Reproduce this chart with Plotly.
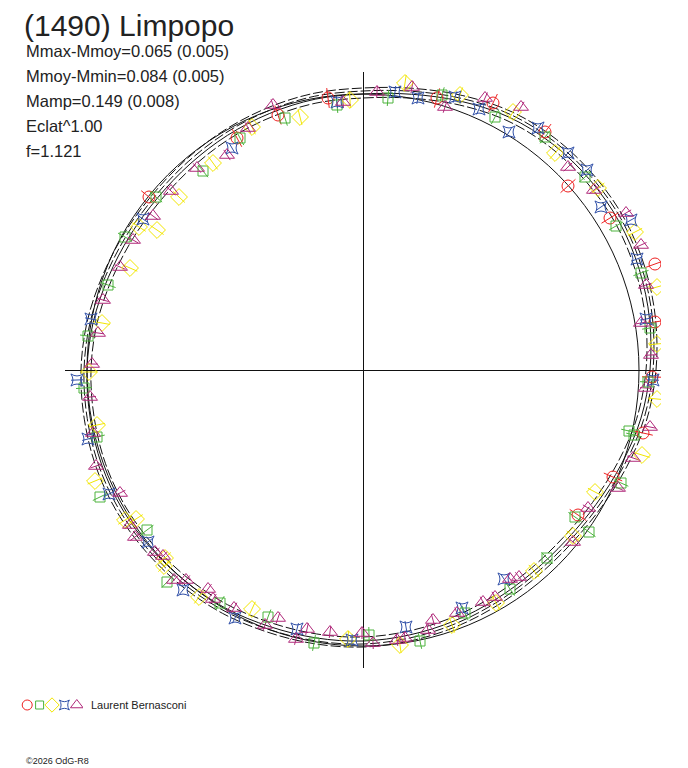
import numpy as np
import plotly.graph_objects as go

# reference circle radius (plot units) and axis half-extent
R_CIRCLE = 276
AX_MAX = 298

# fitted curve: deviation from the circle, every 10 deg of phase angle
fit_phase = list(range(0, 360, 10))
fit_dr = [11, 15, 18, 20, 20, 19, 16, 10, 4, 0, -1, -3, -5, -7, -8, -7, -5, -2,
          0, 1, 2, 2, 1, 0, -1, -3, -4, -5, -7, -9, -11, -12, -11, -7, -1, 6]
band_dr = [-4, 3, 6]  # dashed companion curves

# observations (x, y) in plot units, origin at the centre
red_x = [-126, -85, -35, 74, 130, 182, 205, 247, 292, 292, 289, 280, 250, 215, -214]
red_y = [232, 255, 272, 272, 267, 238, 184, 152, 106, 48, -7, -63, -107, -145, 173]

green_x = [-123, -78, -26, 25, 79, 132, 182, 222, 253, 278, 287, 285, 266, 271, 258, 212,
           226, 184, 147, 102, 57, 6, -49, -95, -143, -196, -216, -263, -266, -279, -275,
           -255, -238, -207, -160]
green_y = [232, 252, 265, 272, 275, 253, 233, 193, 144, 97, 42, -12, -61, -65, -113, -147,
           -162, -188, -219, -243, -271, -265, -273, -247, -233, -212, -160, -127, -67, -18,
           34, 85, 133, 173, 199]

yellow_x = [-111, -63, -13, 42, 97, 150, 192, 235, 272, 294, 294, 294, 279, 232, 210, 171,
            133, 89, 37, -15, -111, -164, -198, -199, -238, -227, -268, -266, -274, -261,
            -224, -206, -233, -184, -150]
yellow_y = [243, 253, 270, 287, 275, 258, 217, 182, 138, 83, 26, -29, -85, -122, -166, -201,
            -233, -255, -275, -269, -239, -227, -188, -196, -150, -149, -111, -55, -2, 47,
            143, 140, 102, 173, 207]

blue_x = [-131, -26, 32, 55, 92, 116, 146, 175, 205, 224, 238, 268, 274, 283, 290, 141, 99,
          43, -11, -66, -128, -180, -215, -254, -275, -286, -272, -220]
blue_y = [222, 268, 278, 272, 273, 261, 238, 242, 217, 200, 163, 150, 111, 51, -10, -209,
          -238, -257, -270, -259, -248, -220, -172, -124, -69, -10, 51, 151]

magenta_x = [-90, -115, -136, -20, 14, 49, 82, 122, 158, 205, 231, 263, 278, 283, 278, 288,
             283, 287, 270, 255, 225, 210, 156, 147, 132, 120, 94, 70, 65, 42, 34, 10, -1,
             -33, -56, -67, -85, -98, -129, -150, -155, -177, -189, -200, -208, -228, -233,
             -243, -267, -270, -273, -271, -265, -260, -243, -230, -210, -192, -166]
magenta_y = [265, 242, 215, 268, 278, 283, 263, 272, 263, 203, 180, 157, 125, 85, 47, 15,
             -18, -57, -88, -118, -138, -172, -207, -209, -227, -232, -243, -250, -260, -268,
             -270, -273, -263, -262, -259, -269, -248, -255, -238, -229, -219, -210, -210,
             -186, -182, -167, -155, -123, -96, -63, -27, 6, 37, 70, 103, 130, 154, 179, 202]

series = [
    # x, y, colour, symbol, size, error half-length
    (red_x, red_y, "#ee2222", "circle-open", 12, 10),
    (green_x, green_y, "#4cb33c", "square-open", 10, 8),
    (yellow_x, yellow_y, "#f2e600", "diamond-open", 13, 8),
    (blue_x, blue_y, "#3050a8", "star-square-open", 11, 6),
    (magenta_x, magenta_y, "#b0287a", "triangle-up-open", 13, 6),
]

title = "(1490) Limpopo"
stats = ["Mmax-Mmoy=0.065 (0.005)", "Mmoy-Mmin=0.084 (0.005)", "Mamp=0.149 (0.008)",
         "Eclat^1.00", "f=1.121"]
observer = "Laurent Bernasconi"
credit = "©2026 OdG-R8"

# the page adds an 8px body margin, so the figure is a bit smaller than the window
PAD = 8
W, H = 688 - PAD, 768 - PAD
FONT = "Liberation Sans, Arial, sans-serif"


def px(x):
    return (x - PAD) / W


def py(y):
    return 1 - (y - PAD) / H


fig = go.Figure()

# fitted curve and its companions
ang = np.radians(fit_phase + [fit_phase[0]])
dr = np.array(fit_dr + [fit_dr[0]], dtype=float)
for off, dash in [(0, "solid")] + [(b, "10px,3px") for b in band_dr]:
    r = R_CIRCLE + dr + off
    fig.add_trace(go.Scatter(
        x=r * np.cos(ang), y=r * np.sin(ang), mode="lines",
        line=dict(color="#111111", width=1, dash=dash, shape="spline"),
        hoverinfo="skip", showlegend=False,
    ))

# radial error bars then the points
for xs, ys, col, sym, size, err in series:
    ex, ey = [], []
    for x, y in zip(xs, ys):
        d = np.hypot(x, y)
        ux, uy = x / d, y / d
        ex += [x - err * ux, x + err * ux, None]
        ey += [y - err * uy, y + err * uy, None]
    fig.add_trace(go.Scatter(x=ex, y=ey, mode="lines", line=dict(color=col, width=1),
                             hoverinfo="skip", showlegend=False))
for xs, ys, col, sym, size, err in series:
    fig.add_trace(go.Scatter(
        x=xs, y=ys, mode="markers",
        marker=dict(symbol=sym, size=size, color=col, line=dict(color=col, width=1)),
        showlegend=False,
    ))

# legend glyphs on a small auxiliary axis
for i, (xs, ys, col, sym, size, err) in enumerate(series):
    fig.add_trace(go.Scatter(
        x=[i], y=[0], mode="markers", xaxis="x2", yaxis="y2",
        marker=dict(symbol=sym, size=size - 2, color=col, line=dict(color=col, width=1)),
        showlegend=False, hoverinfo="skip",
    ))

fig.add_shape(type="circle", xref="x", yref="y", x0=-R_CIRCLE, y0=-R_CIRCLE,
              x1=R_CIRCLE, y1=R_CIRCLE, line=dict(color="#111111", width=1), layer="below")

ann = [dict(text=title, x=px(23), y=1, xref="paper", yref="paper",
            xanchor="left", yanchor="top", showarrow=False, borderpad=0,
            font=dict(size=30, color="#222222", family=FONT))]
for k, s in enumerate(stats):
    ann.append(dict(text=s, x=px(24), y=py(51 + 25 * k), xref="paper", yref="paper",
                    xanchor="left", yanchor="middle", showarrow=False,
                    font=dict(size=16.5, color="#222222", family=FONT)))
ann.append(dict(text=observer, x=px(89), y=py(705), xref="paper", yref="paper",
                xanchor="left", yanchor="middle", showarrow=False,
                font=dict(size=11, color="#222222", family=FONT)))
ann.append(dict(text=credit, x=px(24), y=py(761), xref="paper", yref="paper",
                xanchor="left", yanchor="middle", showarrow=False,
                font=dict(size=9, color="#222222", family=FONT)))

axis_common = dict(showgrid=False, showticklabels=False, ticks="", showline=False)
fig.update_layout(
    width=W, height=H, margin=dict(l=0, r=0, t=0, b=0),
    paper_bgcolor="white", plot_bgcolor="white",
    xaxis=dict(range=[-AX_MAX, AX_MAX], domain=[px(65), px(661)], zeroline=True,
               zerolinecolor="#111111", zerolinewidth=1, **axis_common),
    yaxis=dict(range=[-AX_MAX, AX_MAX], domain=[py(668), py(72)], zeroline=True,
               zerolinecolor="#111111", zerolinewidth=1, **axis_common),
    xaxis2=dict(range=[-0.5, 4.5], domain=[px(21), px(83)], anchor="y2", zeroline=False,
                visible=False),
    yaxis2=dict(range=[-1, 1], domain=[py(715), py(695)], anchor="x2",
                zeroline=False, visible=False),
    annotations=ann,
    showlegend=False,
)

fig.write_html("out.html")
